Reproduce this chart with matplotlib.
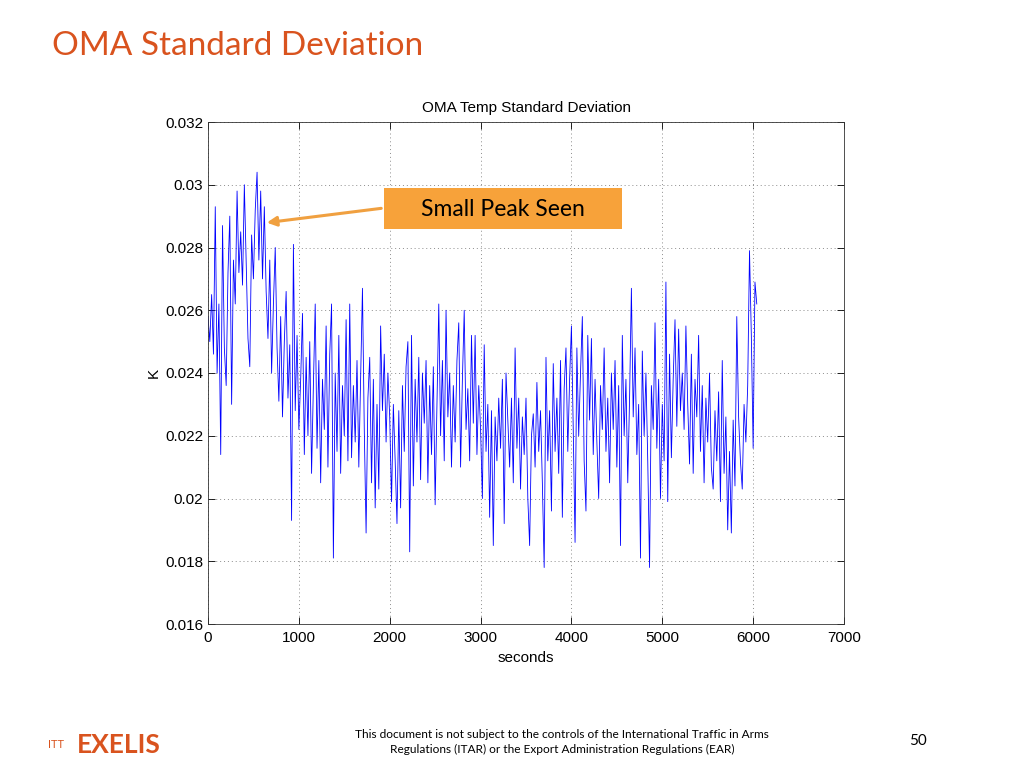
import numpy as np
import matplotlib
matplotlib.use('Agg')
import matplotlib.pyplot as plt
import matplotlib.patches as patches
from matplotlib.ticker import FuncFormatter

# sample spacing of the record (s)
t_step = 20

# OMA temperature standard deviation (K), every 20 s
std_k = [
    0.0258, 0.0250, 0.0265, 0.0246, 0.0293, 0.0240, 0.0262, 0.0214, 0.0287, 0.0248,
    0.0236, 0.0272, 0.0290, 0.0230, 0.0276, 0.0262, 0.0298, 0.0272, 0.0285, 0.0268,
    0.0300, 0.0275, 0.0251, 0.0242, 0.0284, 0.0270, 0.0292, 0.0304, 0.0276, 0.0298,
    0.0270, 0.0293, 0.0266, 0.0251, 0.0276, 0.0240, 0.0262, 0.0280, 0.0248, 0.0231,
    0.0258, 0.0226, 0.0250, 0.0266, 0.0232, 0.0249, 0.0193, 0.0281, 0.0228, 0.0252,
    0.0222, 0.0238, 0.0259, 0.0214, 0.0245, 0.0220, 0.0250, 0.0208, 0.0236, 0.0262,
    0.0216, 0.0244, 0.0205, 0.0238, 0.0222, 0.0255, 0.0210, 0.0246, 0.0262, 0.0181,
    0.0240, 0.0215, 0.0252, 0.0208, 0.0236, 0.0220, 0.0257, 0.0212, 0.0262, 0.0213,
    0.0236, 0.0218, 0.0244, 0.0210, 0.0238, 0.0267, 0.0222, 0.0189, 0.0232, 0.0245,
    0.0205, 0.0238, 0.0197, 0.0230, 0.0203, 0.0255, 0.0228, 0.0246, 0.0218, 0.0240,
    0.0226, 0.0199, 0.0230, 0.0212, 0.0192, 0.0228, 0.0197, 0.0236, 0.0215, 0.0242,
    0.0250, 0.0183, 0.0252, 0.0204, 0.0238, 0.0218, 0.0245, 0.0206, 0.0240, 0.0224,
    0.0244, 0.0205, 0.0236, 0.0214, 0.0242, 0.0198, 0.0230, 0.0262, 0.0220, 0.0244,
    0.0212, 0.0260, 0.0226, 0.0240, 0.0210, 0.0236, 0.0218, 0.0244, 0.0256, 0.0210,
    0.0238, 0.0260, 0.0222, 0.0235, 0.0212, 0.0252, 0.0224, 0.0252, 0.0214, 0.0236,
    0.0222, 0.0200, 0.0249, 0.0215, 0.0230, 0.0194, 0.0228, 0.0185, 0.0226, 0.0212,
    0.0232, 0.0216, 0.0238, 0.0192, 0.0240, 0.0225, 0.0210, 0.0232, 0.0205, 0.0248,
    0.0216, 0.0232, 0.0203, 0.0226, 0.0214, 0.0232, 0.0200, 0.0185, 0.0220, 0.0227,
    0.0210, 0.0237, 0.0215, 0.0228, 0.0205, 0.0178, 0.0245, 0.0212, 0.0228, 0.0196,
    0.0243, 0.0215, 0.0232, 0.0208, 0.0244, 0.0194, 0.0235, 0.0248, 0.0215, 0.0238,
    0.0255, 0.0222, 0.0186, 0.0248, 0.0220, 0.0240, 0.0258, 0.0212, 0.0196, 0.0252,
    0.0225, 0.0251, 0.0214, 0.0238, 0.0218, 0.0200, 0.0236, 0.0222, 0.0248, 0.0215,
    0.0232, 0.0205, 0.0240, 0.0222, 0.0244, 0.0210, 0.0236, 0.0185, 0.0252, 0.0220,
    0.0238, 0.0205, 0.0232, 0.0267, 0.0226, 0.0248, 0.0214, 0.0230, 0.0181, 0.0247,
    0.0220, 0.0240, 0.0212, 0.0178, 0.0236, 0.0222, 0.0256, 0.0216, 0.0238, 0.0200,
    0.0230, 0.0212, 0.0269, 0.0199, 0.0246, 0.0213, 0.0238, 0.0257, 0.0223, 0.0254,
    0.0228, 0.0240, 0.0222, 0.0255, 0.0230, 0.0211, 0.0246, 0.0208, 0.0238, 0.0226,
    0.0252, 0.0215, 0.0236, 0.0205, 0.0232, 0.0218, 0.0240, 0.0210, 0.0203, 0.0228,
    0.0212, 0.0234, 0.0199, 0.0244, 0.0208, 0.0226, 0.0190, 0.0215, 0.0189, 0.0225,
    0.0204, 0.0258, 0.0226, 0.0212, 0.0203, 0.0230, 0.0218, 0.0236, 0.0279, 0.0252,
    0.0216, 0.0269, 0.0262,
]
t_sec = np.arange(len(std_k)) * t_step

x_ticks = [0, 1000, 2000, 3000, 4000, 5000, 6000, 7000]
y_ticks = [0.016, 0.018, 0.02, 0.022, 0.024, 0.026, 0.028, 0.03, 0.032]

orange_title = '#D9531E'
orange_box = '#F7A23A'

fig = plt.figure(figsize=(10.24, 7.68), dpi=100)
ax = fig.add_axes([208/1024, 1-624/768, (844-208)/1024, (624-122)/768])

ax.plot(t_sec, std_k, color='#0000FF', lw=0.6)
ax.set_xlim(0, 7000)
ax.set_ylim(0.016, 0.032)
ax.set_xticks(x_ticks)
ax.set_yticks(y_ticks)
ax.yaxis.set_major_formatter(FuncFormatter(lambda v, p: '%g' % v))
ax.grid(True, linestyle=(0, (1, 3)), color='#8c8c8c', lw=0.7)
ax.tick_params(direction='in', top=True, right=True, labelsize=11, length=5, width=0.6)
ax.tick_params(axis='x', pad=5)
for s in ax.spines.values():
    s.set_linewidth(0.6)
    s.set_color('#333333')
for lab in ax.get_xticklabels() + ax.get_yticklabels():
    lab.set_family('Liberation Sans')

ax.set_title('OMA Temp Standard Deviation', fontsize=11, family='Liberation Sans', pad=7)
ax.set_xlabel('seconds', fontsize=11, family='Liberation Sans', labelpad=4)
ax.set_ylabel('K', fontsize=11, family='Liberation Sans', labelpad=3)

# slide title
fig.text(52/1024, 1-46/768, 'OMA Standard Deviation', color=orange_title,
         fontsize=24, family='Lato', va='center', ha='left')

# callout box + arrow
box = patches.Rectangle((384/1024, 1-229/768), (622-384)/1024, (229-188)/768,
                        transform=fig.transFigure, facecolor=orange_box,
                        edgecolor='none', zorder=5)
fig.patches.append(box)
fig.text(503/1024, 1-209/768, 'Small Peak Seen', fontsize=16.5, family='Lato',
         ha='center', va='center', color='black', zorder=6)
arr = patches.FancyArrowPatch((384/1024, 1-208/768), (264/1024, 1-223/768),
                              transform=fig.transFigure, arrowstyle='-|>',
                              mutation_scale=14, color='#F0A040', lw=2.2, zorder=5)
fig.patches.append(arr)

# footer
fig.text(48/1024, 1-744/768, 'ITT', color=orange_title, fontsize=8,
         family='Lato', va='center', ha='left')
fig.text(77/1024, 1-745/768, 'EXELIS', color=orange_title, fontsize=19,
         family='Lato', weight='bold', va='center', ha='left')
fig.text(562/1024, 1-742/768,
         'This document is not subject to the controls of the International Traffic in Arms\n'
         'Regulations (ITAR) or the Export Administration Regulations (EAR)',
         fontsize=8.6, family='Lato', ha='center', va='center', linespacing=1.45)
fig.text(918/1024, 1-741/768, '50', fontsize=11, family='Lato', ha='center', va='center')

fig.savefig('out.png', dpi=100)
